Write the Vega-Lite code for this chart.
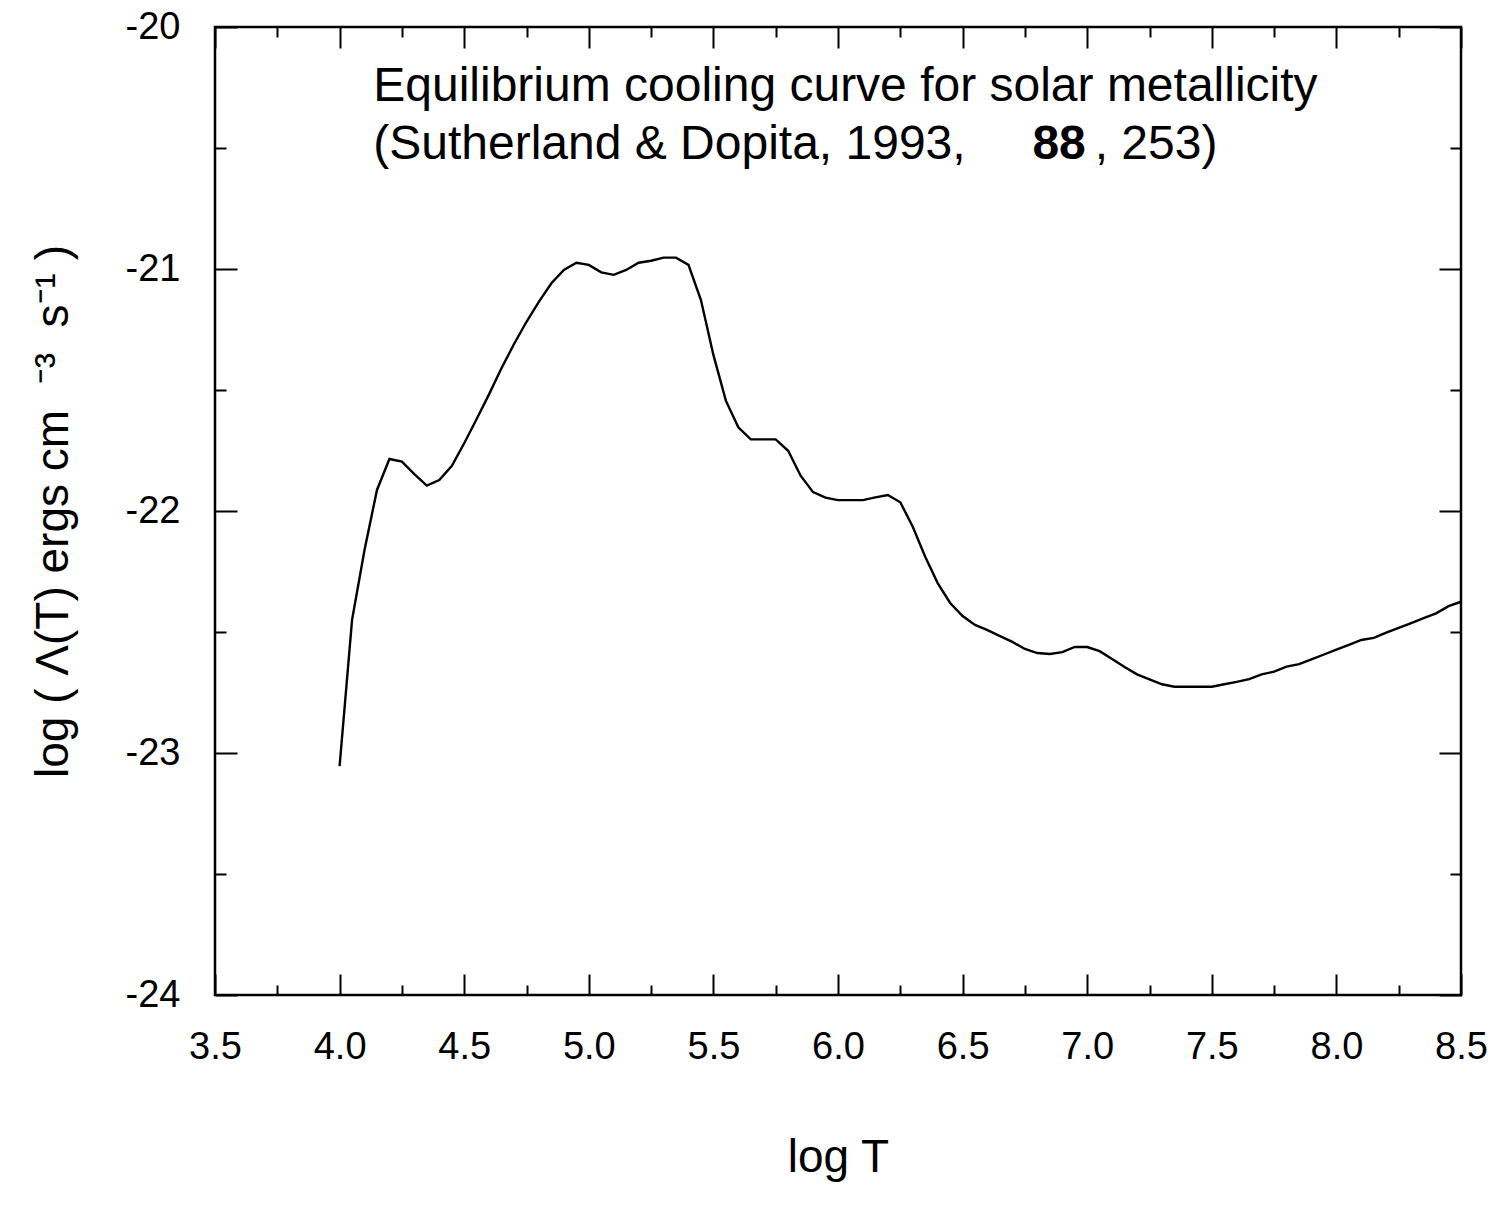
{
  "$schema": "https://vega.github.io/schema/vega-lite/v6.json",
  "width": 1246,
  "height": 968,
  "autosize": {"type": "none"},
  "padding": {"left": 215, "top": 27, "right": 33, "bottom": 220},
  "background": "white",
  "config": {
    "view": {"stroke": "black", "strokeWidth": 2.5},
    "font": "Liberation Sans",
    "axis": {
      "domain": false,
      "grid": false,
      "tickColor": "black",
      "tickWidth": 2,
      "labelColor": "black",
      "titleColor": "black",
      "labelFont": "Liberation Sans",
      "titleFont": "Liberation Sans",
      "labelFontSize": 38,
      "titleFontSize": 46,
      "titleFontWeight": "normal"
    }
  },
  "datasets": {
    "curve": [
      {"logT": 4.00, "logL": -23.054}, {"logT": 4.05, "logL": -22.450}, {"logT": 4.10, "logL": -22.161},
      {"logT": 4.15, "logL": -21.913}, {"logT": 4.20, "logL": -21.785}, {"logT": 4.25, "logL": -21.796},
      {"logT": 4.30, "logL": -21.848}, {"logT": 4.35, "logL": -21.895}, {"logT": 4.40, "logL": -21.872},
      {"logT": 4.45, "logL": -21.814}, {"logT": 4.50, "logL": -21.720}, {"logT": 4.55, "logL": -21.620},
      {"logT": 4.60, "logL": -21.517}, {"logT": 4.65, "logL": -21.409}, {"logT": 4.70, "logL": -21.310},
      {"logT": 4.75, "logL": -21.218}, {"logT": 4.80, "logL": -21.135}, {"logT": 4.85, "logL": -21.059},
      {"logT": 4.90, "logL": -21.004}, {"logT": 4.95, "logL": -20.974}, {"logT": 5.00, "logL": -20.983},
      {"logT": 5.05, "logL": -21.014}, {"logT": 5.10, "logL": -21.024}, {"logT": 5.15, "logL": -21.004},
      {"logT": 5.20, "logL": -20.974}, {"logT": 5.25, "logL": -20.966}, {"logT": 5.30, "logL": -20.953},
      {"logT": 5.35, "logL": -20.953}, {"logT": 5.40, "logL": -20.983}, {"logT": 5.45, "logL": -21.128},
      {"logT": 5.50, "logL": -21.355}, {"logT": 5.55, "logL": -21.544}, {"logT": 5.60, "logL": -21.654},
      {"logT": 5.65, "logL": -21.704}, {"logT": 5.70, "logL": -21.704}, {"logT": 5.75, "logL": -21.704},
      {"logT": 5.80, "logL": -21.751}, {"logT": 5.85, "logL": -21.854}, {"logT": 5.90, "logL": -21.922},
      {"logT": 5.95, "logL": -21.945}, {"logT": 6.00, "logL": -21.955}, {"logT": 6.05, "logL": -21.955},
      {"logT": 6.10, "logL": -21.955}, {"logT": 6.15, "logL": -21.944}, {"logT": 6.20, "logL": -21.934},
      {"logT": 6.25, "logL": -21.964}, {"logT": 6.30, "logL": -22.065}, {"logT": 6.35, "logL": -22.189},
      {"logT": 6.40, "logL": -22.298}, {"logT": 6.45, "logL": -22.380}, {"logT": 6.50, "logL": -22.434},
      {"logT": 6.55, "logL": -22.471}, {"logT": 6.60, "logL": -22.492}, {"logT": 6.65, "logL": -22.517},
      {"logT": 6.70, "logL": -22.541}, {"logT": 6.75, "logL": -22.570}, {"logT": 6.80, "logL": -22.587},
      {"logT": 6.85, "logL": -22.591}, {"logT": 6.90, "logL": -22.583}, {"logT": 6.95, "logL": -22.562},
      {"logT": 7.00, "logL": -22.562}, {"logT": 7.05, "logL": -22.579}, {"logT": 7.10, "logL": -22.612},
      {"logT": 7.15, "logL": -22.645}, {"logT": 7.20, "logL": -22.675}, {"logT": 7.25, "logL": -22.696},
      {"logT": 7.30, "logL": -22.716}, {"logT": 7.35, "logL": -22.726}, {"logT": 7.40, "logL": -22.726},
      {"logT": 7.45, "logL": -22.726}, {"logT": 7.50, "logL": -22.726}, {"logT": 7.55, "logL": -22.716},
      {"logT": 7.60, "logL": -22.706}, {"logT": 7.65, "logL": -22.695}, {"logT": 7.70, "logL": -22.675},
      {"logT": 7.75, "logL": -22.664}, {"logT": 7.80, "logL": -22.643}, {"logT": 7.85, "logL": -22.633},
      {"logT": 7.90, "logL": -22.613}, {"logT": 7.95, "logL": -22.593}, {"logT": 8.00, "logL": -22.573},
      {"logT": 8.05, "logL": -22.553}, {"logT": 8.10, "logL": -22.533}, {"logT": 8.15, "logL": -22.524},
      {"logT": 8.20, "logL": -22.503}, {"logT": 8.25, "logL": -22.483}, {"logT": 8.30, "logL": -22.463},
      {"logT": 8.35, "logL": -22.443}, {"logT": 8.40, "logL": -22.423}, {"logT": 8.45, "logL": -22.393},
      {"logT": 8.50, "logL": -22.375}
    ],
    "notes": [
      {"x": 4.135, "y": -20.306, "t": "Equilibrium cooling curve for solar metallicity"},
      {"x": 4.135, "y": -20.545, "t": "(Sutherland & Dopita, 1993,"},
      {"x": 7.03, "y": -20.545, "t": ", 253)"}
    ],
    "bold": [
      {"x": 6.78, "y": -20.545, "t": "88"}
    ]
  },
  "layer": [
    {
      "data": {"name": "curve"},
      "mark": {"type": "line", "color": "black", "strokeWidth": 2.4},
      "encoding": {
        "x": {
          "field": "logT", "type": "quantitative",
          "scale": {"domain": [3.5, 8.5], "nice": false, "zero": false},
          "axis": {
            "orient": "bottom",
            "values": [3.5, 3.75, 4.0, 4.25, 4.5, 4.75, 5.0, 5.25, 5.5, 5.75, 6.0, 6.25, 6.5, 6.75, 7.0, 7.25, 7.5, 7.75, 8.0, 8.25, 8.5],
            "tickSize": {"condition": {"test": "datum.value % 0.5 === 0", "value": -21}, "value": -10},
            "labelExpr": "datum.value % 0.5 === 0 ? format(datum.value, '.1f') : ''",
            "labelPadding": 54,
            "labelOverlap": false,
            "labelFlush": false,
            "title": "log T",
            "titlePadding": 58
          }
        },
        "y": {
          "field": "logL", "type": "quantitative",
          "scale": {"domain": [-24, -20], "nice": false, "zero": false},
          "axis": {
            "orient": "left",
            "values": [-24, -23.5, -23, -22.5, -22, -21.5, -21, -20.5, -20],
            "tickSize": {"condition": {"test": "datum.value % 1 === 0", "value": -22}, "value": -11},
            "labelExpr": "datum.value % 1 === 0 ? '' + datum.value : ''",
            "labelPadding": 57,
            "labelOverlap": false,
            "labelFlush": false,
            "title": "log ( Λ(T) ergs cm\u00a0\u00a0⁻³\u00a0 s⁻¹\u00a0)",
            "titlePadding": 48
          }
        }
      }
    },
    {
      "data": {"name": "curve"},
      "mark": {"type": "line", "opacity": 0},
      "encoding": {
        "x": {
          "field": "logT", "type": "quantitative",
          "axis": {
            "orient": "top",
            "values": [3.5, 3.75, 4.0, 4.25, 4.5, 4.75, 5.0, 5.25, 5.5, 5.75, 6.0, 6.25, 6.5, 6.75, 7.0, 7.25, 7.5, 7.75, 8.0, 8.25, 8.5],
            "tickSize": {"condition": {"test": "datum.value % 0.5 === 0", "value": -21}, "value": -10},
            "labels": false,
            "title": null
          }
        },
        "y": {
          "field": "logL", "type": "quantitative",
          "axis": {
            "orient": "right",
            "values": [-24, -23.5, -23, -22.5, -22, -21.5, -21, -20.5, -20],
            "tickSize": {"condition": {"test": "datum.value % 1 === 0", "value": -22}, "value": -11},
            "labels": false,
            "title": null
          }
        }
      }
    },
    {
      "data": {"name": "notes"},
      "mark": {"type": "text", "align": "left", "baseline": "alphabetic", "fontSize": 48, "font": "Liberation Sans", "color": "black"},
      "encoding": {
        "x": {"field": "x", "type": "quantitative", "axis": null},
        "y": {"field": "y", "type": "quantitative", "axis": null},
        "text": {"field": "t"}
      }
    },
    {
      "data": {"name": "bold"},
      "mark": {"type": "text", "align": "left", "baseline": "alphabetic", "fontSize": 48, "fontWeight": "bold", "font": "Liberation Sans", "color": "black"},
      "encoding": {
        "x": {"field": "x", "type": "quantitative", "axis": null},
        "y": {"field": "y", "type": "quantitative", "axis": null},
        "text": {"field": "t"}
      }
    }
  ],
  "resolve": {"axis": {"x": "independent", "y": "independent"}}
}
